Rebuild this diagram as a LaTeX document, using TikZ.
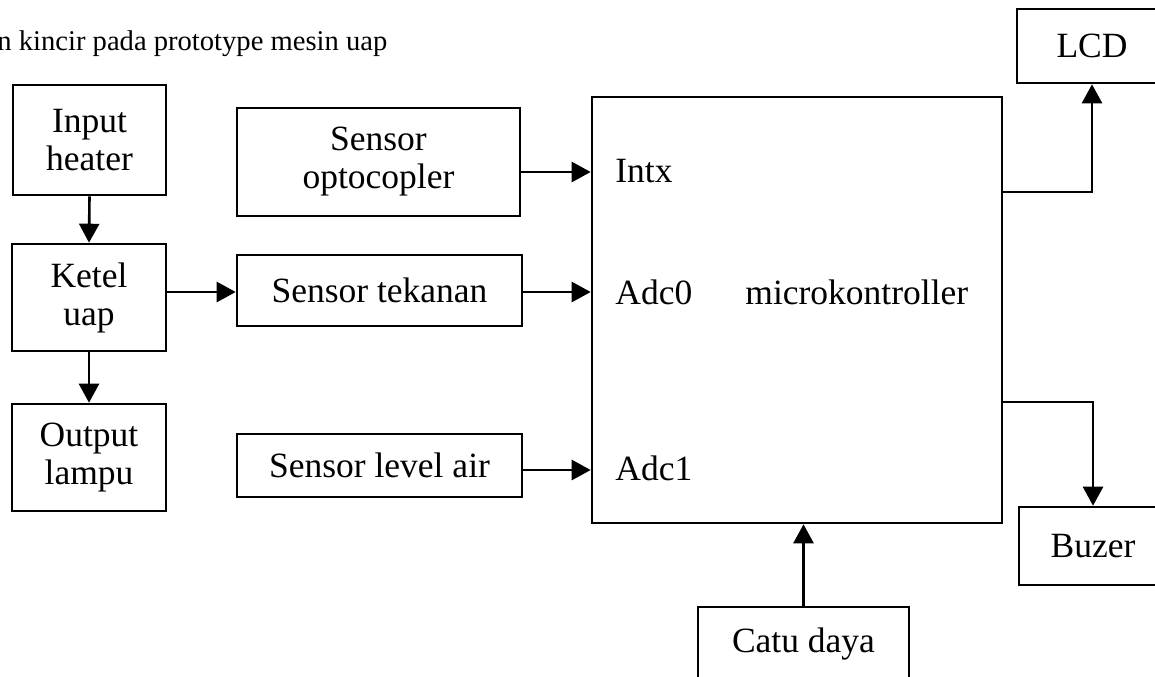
\documentclass[tikz,border=0pt]{standalone}
\usepackage{fontspec}
\setmainfont{Liberation Serif}
\usetikzlibrary{arrows.meta}
\begin{document}
\begin{tikzpicture}[x=0.5pt,y=-0.5pt,
  box/.style={draw, line width=1.3pt, inner sep=0pt, align=center, font=\fontsize{17.75}{19}\selectfont},
  lbl/.style={inner sep=0pt, anchor=base west, font=\fontsize{17.75}{19}\selectfont},
  arr/.style={line width=1.3pt, -{Triangle[length=9.5pt,width=10pt]}}]
\useasboundingbox (0,0) rectangle (1155,676);
\clip (0,0) rectangle (1155,676);
\fill[white] (0,0) rectangle (1155,676);
% title
\node[anchor=base west, inner sep=0pt, font=\fontsize{14.3}{17}\selectfont] (title) at (-3,50) {n kincir pada prototype mesin uap};
% left column
\node[box, minimum width=76.5pt, minimum height=55pt] (heater) at (89.5,140) {Input\\heater};
\node[box, minimum width=77pt, minimum height=53.5pt] (ketel) at (89,297.5) {Ketel\\uap};
\node[box, minimum width=77pt, minimum height=53.5pt] (output) at (89,457.5) {Output\\lampu};
% sensors
\node[box, minimum width=141.5pt, minimum height=54pt] (opto) at (378.5,162) {Sensor\\optocopler};
\node[box, minimum width=142.5pt, minimum height=35.5pt] (tek) at (379.5,290.5) {Sensor tekanan};
\node[box, minimum width=142.5pt, minimum height=31.5pt] (level) at (379.5,465.5) {Sensor level air};
% microcontroller
\node[box, minimum width=205pt, minimum height=213pt] (micro) at (797,310) {};
\node[lbl] (intx) at (615,182) {Intx};
\node[lbl] (adc0) at (615,304) {Adc0};
\node[lbl] (adc1) at (615,480) {Adc1};
\node[lbl] (mk) at (745,304) {microkontroller};
% outputs
\node[box, minimum width=75pt, minimum height=37pt] (lcd) at (1092,46) {LCD};
\node[box, minimum width=74pt, minimum height=39pt] (buzer) at (1093,546) {Buzer};
\node[box, minimum width=105.5pt, minimum height=36.5pt] (catu) at (803.5,643.5) {Catu daya};
% connectors
\draw[arr] (heater.south) -- (ketel.north);
\draw[arr] (ketel.south) -- (output.north);
\draw[arr] (ketel.east |- 0,292) -- (tek.west |- 0,292);
\draw[arr] (opto.east |- 0,172) -- (micro.west |- 0,172);
\draw[arr] (tek.east |- 0,292) -- (micro.west |- 0,292);
\draw[arr] (level.east |- 0,470) -- (micro.west |- 0,470);
\draw[arr] (micro.east |- 0,192) -| (lcd.south);
\draw[arr] (micro.east |- 0,402) -| (buzer.north);
\draw[arr] (catu.north) -- (catu.north |- micro.south);
\end{tikzpicture}
\end{document}
